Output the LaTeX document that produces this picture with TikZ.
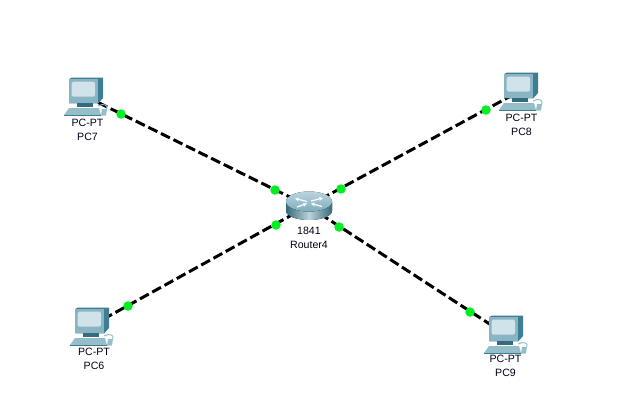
\documentclass[tikz,border=0pt]{standalone}
\usepackage{fontspec}
\setmainfont{Liberation Sans}
\usetikzlibrary{arrows.meta}
\usetikzlibrary{positioning}

\definecolor{linkgreen}{RGB}{0,238,34}
\definecolor{caseteal}{RGB}{62,126,146}
\definecolor{bezel}{RGB}{136,180,196}
\definecolor{screenblue}{RGB}{208,226,234}
\definecolor{keygray}{RGB}{150,190,202}

\tikzset{
	link/.style = {line width=3pt, dash pattern=on 10pt off 4pt, black},
	dot/.style = {circle, fill=linkgreen, inner sep=0pt, minimum size=9.5pt},
	lbl/.style = {font=\fontsize{10.6}{14}\selectfont, align=center, inner sep=0pt, text=black!90!blue},
	pc/.pic = {
		% case side and top
		\fill[caseteal] (-15.7,-17) -- (-13,-18.5) -- (18,-18.5) -- (18,2) -- (13.3,7.3) -- (-15.7,7.3) -- cycle;
		\fill[bezel] (-15.7,-17) rectangle (13.3,7.3);
		\fill[screenblue, rounded corners=1.5pt] (-13.3,-14.3) rectangle (10,0.7);
		\fill[caseteal!85!black] (-8,7.3) rectangle (8,11);
		% keyboard and mouse
		\fill[keygray] (-21,19) -- (-16,12) -- (14,12) -- (16,19) -- cycle;
		\fill[caseteal] (-21,19) rectangle (16,20);
		\draw[keygray, line width=1pt] (13,10) .. controls (19,7) and (23,9) .. (22,13);
		\fill[keygray] (17,13) -- (22,13) -- (21,19.5) -- (16,19.5) -- cycle;
	},
	routericon/.pic = {
		\fill[left color=caseteal!85!black, right color=caseteal!85!black, middle color=white!65!caseteal]
			(-22,-4.5) -- (-22,5) arc[start angle=180, end angle=0, x radius=23, y radius=9] -- (24,-4.5) -- cycle;
		\fill[top color=screenblue!70!bezel, bottom color=bezel!85!caseteal] (1,-4.5) ellipse[x radius=23, y radius=10];
		\begin{scope}[white, line width=1.2pt, -{Stealth[length=4pt, width=4pt]}]
			\draw (-1,-4.5) -- (-13,-7.5);
			\draw (3,-5) -- (15,-8);
			\draw (-11,1) -- (-1,-2.5);
			\draw (14,0.5) -- (3,-2.5);
		\end{scope}
	},
}

\begin{document}
\begin{tikzpicture}[x=1pt, y=-1pt]
	\useasboundingbox (0,0) rectangle (635,413);
	\coordinate (R) at (308,206);
	\coordinate (PC7) at (85,96);
	\coordinate (PC8) at (520,91);
	\coordinate (PC6) at (91,326);
	\coordinate (PC9) at (505,334);

	\path[link] (R) edge (PC7);
	\path[link] (R) edge (PC8);
	\path[link] (R) edge (PC6);
	\path[link] (R) edge (PC9);

	\pic at (PC7) {pc};
	\pic at (PC8) {pc};
	\pic at (PC6) {pc};
	\pic at (PC9) {pc};
	\pic at (R) {routericon};

	\node[dot] (d7a) at (121,114) {};
	\node[dot] (d7b) at (275,190) {};
	\node[dot] (d8a) at (486,110) {};
	\node[dot] (d8b) at (341,189) {};
	\node[dot] (d6a) at (128,306) {};
	\node[dot] (d6b) at (276,225) {};
	\node[dot] (d9a) at (470,312) {};
	\node[dot] (d9b) at (339,227) {};

	\node[lbl] (lPC7) at (87.5,129.5) {PC-PT\\PC7};
	\node[lbl] (lPC8) at (521.5,124.5) {PC-PT\\PC8};
	\node[lbl] (lPC6) at (94,358.5) {PC-PT\\PC6};
	\node[lbl] (lPC9) at (505.5,366) {PC-PT\\PC9};
	\node[lbl] (lR) at (309,238) {1841\\Router4};
\end{tikzpicture}
\end{document}
